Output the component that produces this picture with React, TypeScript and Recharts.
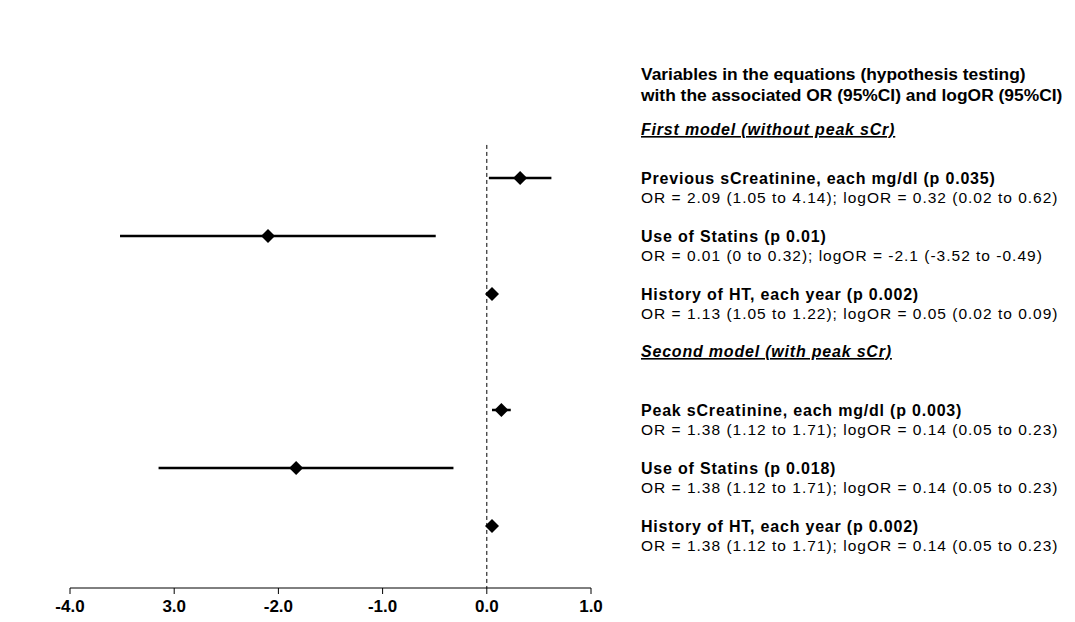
import React from 'react';
import { ScatterChart, Scatter, XAxis, YAxis, ErrorBar, ReferenceLine } from 'recharts';

// rows of the forest plot (slot 0 and 4 hold the model headers)
const variables = [
  'Previous sCreatinine',
  'Use of Statins',
  'History of HT',
  'Peak sCreatinine',
  'Use of Statins (2nd)',
  'History of HT (2nd)',
];
const rowSlots = [1, 2, 3, 5, 6, 7];
const logOR = [0.32, -2.1, 0.05, 0.14, -1.83, 0.05];
const ciLow = [0.02, -3.52, 0.02, 0.05, -3.15, 0.02];
const ciHigh = [0.62, -0.49, 0.09, 0.23, -0.32, 0.09];

const xTicks = [-4, -3, -2, -1, 0, 1];
const xTickLabels = ['-4.0', '3.0', '-2.0', '-1.0', '0.0', '1.0'];

const titleLines = [
  'Variables in the equations (hypothesis testing)',
  'with the associated OR (95%CI) and logOR (95%CI)',
];
const modelHeaders = ['First model (without peak sCr)', 'Second model (with peak sCr)'];
const varLabels = [
  'Previous sCreatinine, each mg/dl (p 0.035)',
  'Use of Statins (p 0.01)',
  'History of HT, each year (p 0.002)',
  'Peak sCreatinine, each mg/dl (p 0.003)',
  'Use of Statins (p 0.018)',
  'History of HT, each year (p 0.002)',
];
const statLabels = [
  'OR = 2.09 (1.05 to 4.14); logOR = 0.32 (0.02 to 0.62)',
  'OR = 0.01 (0 to 0.32); logOR = -2.1 (-3.52 to -0.49)',
  'OR = 1.13 (1.05 to 1.22); logOR = 0.05 (0.02 to 0.09)',
  'OR = 1.38 (1.12 to 1.71); logOR = 0.14 (0.05 to 0.23)',
  'OR = 1.38 (1.12 to 1.71); logOR = 0.14 (0.05 to 0.23)',
  'OR = 1.38 (1.12 to 1.71); logOR = 0.14 (0.05 to 0.23)',
];

const data = variables.map((name, i) => ({
  name,
  slot: rowSlots[i],
  logOR: logOR[i],
  err: [logOR[i] - ciLow[i], ciHigh[i] - logOR[i]],
}));

const W = 1075;
const H = 622;
const TOP = 120;
const SLOT = 58;
const Y_MAX = 8.069;
const TEXT_X = 641;
const HEADER_Y = [135, 357];
const FONT = '"Liberation Sans", Arial, sans-serif';

const Diamond = (props: any) => {
  const { cx, cy } = props;
  const r = 7;
  return (
    <polygon
      points={`${cx},${cy - r} ${cx + r},${cy} ${cx},${cy + r} ${cx - r},${cy}`}
      fill="#000"
    />
  );
};

const slotY = (s: number) => TOP + SLOT * s;

export default function App() {
  return (
    <div style={{ position: 'absolute', left: 0, top: 0, width: W, height: H, background: '#fff' }}>
      <ScatterChart width={W} height={H} margin={{ top: TOP, right: 484, bottom: 4, left: 70 }}>
        <XAxis
          type="number"
          dataKey="logOR"
          domain={[-4, 1]}
          ticks={xTicks}
          allowDataOverflow
          height={30}
          stroke="#000"
          tickSize={6}
          tickMargin={6}
          tick={{ fill: '#000', fontSize: 17, fontWeight: 700, fontFamily: FONT }}
          tickFormatter={(v: number) => xTickLabels[xTicks.indexOf(v)] ?? ''}
        />
        <YAxis type="number" dataKey="slot" domain={[0, Y_MAX]} reversed hide />
        <ReferenceLine
          segment={[{ x: 0, y: 0.43 }, { x: 0, y: Y_MAX }]}
          stroke="#000"
          strokeDasharray="4 3"
        />
        <Scatter data={data} shape={<Diamond />} isAnimationActive={false}>
          <ErrorBar dataKey="err" direction="x" width={0} stroke="#000" strokeWidth={2.5} />
        </Scatter>
      </ScatterChart>
      <svg
        width={W}
        height={H}
        style={{ position: 'absolute', left: 0, top: 0, pointerEvents: 'none' }}
        fontFamily={FONT}
        fill="#000"
      >
        {titleLines.map((t, i) => (
          <text key={t} x={TEXT_X} y={80 + i * 21} fontSize={17.4} fontWeight={700}>
            {t}
          </text>
        ))}
        {modelHeaders.map((t, i) => (
          <text
            key={t}
            x={TEXT_X}
            y={HEADER_Y[i]}
            fontSize={16}
            fontWeight={700}
            fontStyle="italic"
            letterSpacing={0.8}
            textDecoration="underline"
          >
            {t}
          </text>
        ))}
        {varLabels.map((t, i) => (
          <g key={i}>
            <text x={TEXT_X} y={slotY(rowSlots[i]) + 6} fontSize={16} fontWeight={700} letterSpacing={0.8}>
              {t}
            </text>
            <text x={TEXT_X} y={slotY(rowSlots[i]) + 25} fontSize={15.5} letterSpacing={1}>
              {statLabels[i]}
            </text>
          </g>
        ))}
      </svg>
    </div>
  );
}
